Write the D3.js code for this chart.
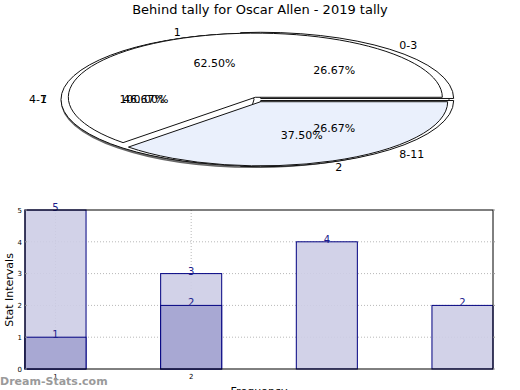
<!DOCTYPE html>
<html><head><meta charset="utf-8">
<script src="https://cdn.jsdelivr.net/npm/d3@7"></script>
<style>body{margin:0;background:#fff}svg{display:block}text{font-family:"DejaVu Sans",sans-serif}</style>
</head><body><svg id="c" width="520" height="390"></svg>
<script>
const title = "Behind tally for Oscar Allen - 2019 tally";
const pieACats = ["1", "2"];
const pieAVals = [62.5, 37.5];
const pieBCats = ["0-3", "4-7", "8-11"];
const pieBVals = [26.67, 46.67, 26.67];
const pieCCats = ["1"];
const pieCVals = [100];
const barCats = ["1", "2", "3", "4"];
const xTickLabels = ["1", "2", "", ""];
const seriesLight = [5, 3, 4, 2];
const seriesDark = [1, 2, null, null];
const yTicks = [0, 1, 2, 3, 4, 5];

const svg = d3.select("#c");
svg.append("text").attr("x", 260).attr("y", 14).attr("text-anchor", "middle")
  .attr("font-size", 13).attr("fill", "#000").text(title);

// ---------- pies ----------
const cx = 258, cy = 99.5, ratio = 0.343;
const pieGen = d3.pie().sort(null).value(d => d).startAngle(Math.PI / 2).endAngle(-1.5 * Math.PI);

function drawPie(vals, r, explode, fills, shadow) {
  const arcs = pieGen(vals);
  const arc = d3.arc().innerRadius(0).outerRadius(r);
  const g = svg.append("g");
  arcs.forEach((a, i) => {
    const mid = (a.startAngle + a.endAngle) / 2;
    const ox = Math.sin(mid) * explode, oy = -Math.cos(mid) * explode * ratio;
    if (shadow) {
      g.append("path").attr("d", arc(a))
        .attr("transform", `translate(${cx + ox - 1.5},${cy + oy + 1.5}) scale(1,${ratio})`)
        .attr("fill", "#888").attr("stroke", "#666").attr("stroke-width", 1.5)
        .attr("vector-effect", "non-scaling-stroke");
    }
    g.append("path").attr("d", arc(a))
      .attr("transform", `translate(${cx + ox},${cy + oy}) scale(1,${ratio})`)
      .attr("fill", fills[i % fills.length]).attr("stroke", "#111").attr("stroke-width", 1)
      .attr("vector-effect", "non-scaling-stroke");
  });
  return arcs;
}
function drawLabels(cats, vals, arcs) {
  arcs.forEach((a, i) => {
    const mid = (a.startAngle + a.endAngle) / 2;
    const s = Math.sin(mid), c = Math.cos(mid);
    const lx = cx + s * 211, ly = cy - c * 73;
    const anchor = Math.abs(s) < 0.5 ? "middle" : (s > 0 ? "start" : "end");
    svg.append("text").attr("x", lx).attr("y", ly).attr("dy", "0.35em")
      .attr("text-anchor", anchor).attr("font-size", 11).attr("fill", "#000").text(cats[i]);
    const px = cx + s * 190 * 0.6, py = cy - c * 65 * 0.6;
    svg.append("text").attr("x", px).attr("y", py).attr("dy", "0.35em")
      .attr("text-anchor", "middle").attr("font-size", 11).attr("fill", "#000")
      .text(vals[i].toFixed(2) + "%");
  });
}
const arcsC = drawPie(pieCVals, 193, 2, ["#fff"], true);
const arcsB = drawPie(pieBVals, 193, 4, ["#fff"], false);
const arcsA = drawPie(pieAVals, 187, 7, ["#fff", "#eaf0fc"], false);
drawLabels(pieCCats, pieCVals, arcsC);
drawLabels(pieBCats, pieBVals, arcsB);
drawLabels(pieACats, pieAVals, arcsA);

// ---------- bars ----------
const L = 25, R = 493, T = 210, B = 369;
const x = d3.scaleBand().domain(barCats).range([L, R]).paddingInner(0.55).paddingOuter(0);
const y = d3.scaleLinear().domain([0, 5]).range([B, T]);
const bg = svg.append("g");

yTicks.filter(t => t > 0 && t < 5).forEach(t => {
  bg.append("line").attr("x1", L).attr("x2", R).attr("y1", y(t)).attr("y2", y(t))
    .attr("stroke", "#b8b8b8").attr("stroke-dasharray", "1,2");
});
barCats.forEach((c, i) => {
  if (xTickLabels[i]) {
    bg.append("line").attr("x1", x(c) + x.bandwidth() / 2).attr("x2", x(c) + x.bandwidth() / 2)
      .attr("y1", T).attr("y2", B).attr("stroke", "#b8b8b8").attr("stroke-dasharray", "1,2");
  }
});

barCats.forEach((c, i) => {
  if (seriesLight[i] == null) return;
  bg.append("rect").attr("x", x(c)).attr("y", y(seriesLight[i])).attr("width", x.bandwidth())
    .attr("height", B - y(seriesLight[i])).attr("fill", "#cdcde5").attr("fill-opacity", 0.9)
    .attr("stroke", "#000080").attr("stroke-width", 1);
});
barCats.forEach((c, i) => {
  if (seriesDark[i] == null) return;
  bg.append("rect").attr("x", x(c)).attr("y", y(seriesDark[i])).attr("width", x.bandwidth())
    .attr("height", B - y(seriesDark[i])).attr("fill", "#a5a5d2").attr("fill-opacity", 0.95)
    .attr("stroke", "#000080").attr("stroke-width", 1);
});
[seriesLight, seriesDark].forEach(ser => {
  barCats.forEach((c, i) => {
    if (ser[i] == null) return;
    bg.append("text").attr("x", x(c) + x.bandwidth() / 2).attr("y", y(ser[i]) + 1)
      .attr("text-anchor", "middle").attr("font-size", 10).attr("fill", "#1c1c8c").text(ser[i]);
  });
});

bg.append("rect").attr("x", L).attr("y", T).attr("width", R - L).attr("height", B - T)
  .attr("fill", "none").attr("stroke", "#000").attr("stroke-width", 1);

const yAxis = d3.axisLeft(y).tickValues(yTicks).tickSize(0).tickPadding(3).tickFormat(d3.format("d"));
const ya = svg.append("g").attr("transform", `translate(${L},0)`).call(yAxis);
ya.select(".domain").remove();
ya.selectAll("text").attr("font-size", 7).attr("font-family", "DejaVu Sans").attr("fill", "#000");
yTicks.forEach(t => {
  svg.append("line").attr("x1", R).attr("x2", R + 2).attr("y1", y(t)).attr("y2", y(t)).attr("stroke", "#999");
  svg.append("line").attr("x1", L).attr("x2", L + 2).attr("y1", y(t)).attr("y2", y(t)).attr("stroke", "#999");
});

const xAxis = d3.axisBottom(x).tickSize(0).tickPadding(5).tickFormat((d, i) => xTickLabels[i]);
const xa = svg.append("g").attr("transform", `translate(0,${B})`).call(xAxis);
xa.select(".domain").remove();
xa.selectAll("text").attr("font-size", 7).attr("font-family", "DejaVu Sans").attr("fill", "#000");

svg.append("text").attr("x", 259).attr("y", 395).attr("text-anchor", "middle")
  .attr("font-size", 11).attr("fill", "#000").text("Frequency");
svg.append("text").attr("transform", "translate(13,290) rotate(-90)").attr("text-anchor", "middle")
  .attr("font-size", 11).attr("fill", "#000").text("Stat Intervals");
svg.append("text").attr("x", 0).attr("y", 385).attr("font-size", 11).attr("font-weight", "bold")
  .attr("fill", "#9a9a9a").text("Dream-Stats.com");
</script></body></html>
